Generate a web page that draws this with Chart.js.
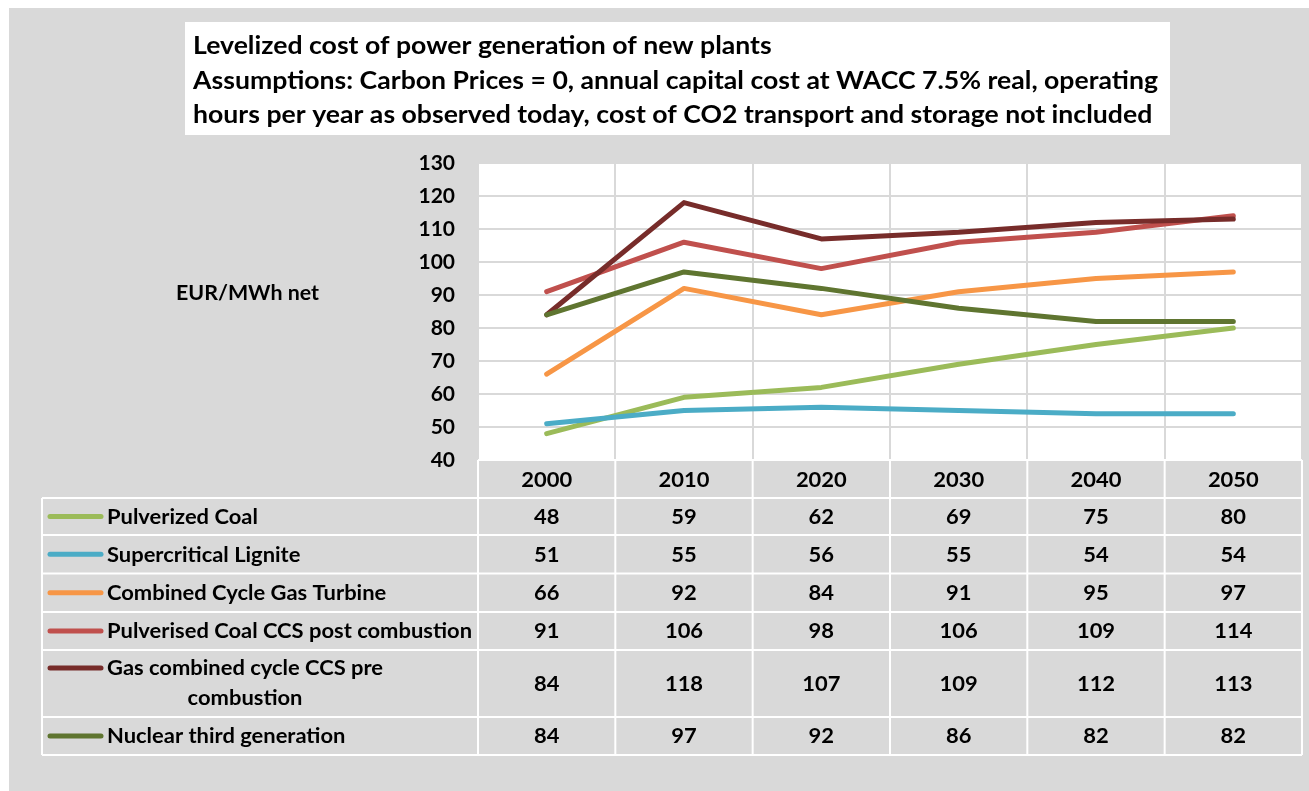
<!DOCTYPE html>
<html>
<head>
<meta charset="utf-8">
<script src="https://cdn.jsdelivr.net/npm/chart.js@4.4.1/dist/chart.umd.min.js"></script>
<style>
  html, body { margin: 0; padding: 0; background: #fff; }
  #wrap { position: relative; width: 1309px; height: 791px; }
</style>
</head>
<body>
<div id="wrap"><canvas id="c"></canvas></div>
<script>
// Levelized cost of power generation, EUR/MWh net
const years = ['2000', '2010', '2020', '2030', '2040', '2050'];
const seriesNames = [
  'Pulverized Coal',
  'Supercritical Lignite',
  'Combined Cycle Gas Turbine',
  'Pulverised Coal CCS post combustion',
  'Gas combined cycle CCS pre combustion',
  'Nuclear third generation',
];
const pulverizedCoal = [48, 59, 62, 69, 75, 80];
const supercriticalLignite = [51, 55, 56, 55, 54, 54];
const ccgt = [66, 92, 84, 91, 95, 97];
const pcCcsPost = [91, 106, 98, 106, 109, 114];
const gasCcsPre = [84, 118, 107, 109, 112, 113];
const nuclearThirdGen = [84, 97, 92, 86, 82, 82];
const seriesValues = [pulverizedCoal, supercriticalLignite, ccgt, pcCcsPost, gasCcsPre, nuclearThirdGen];
const seriesColors = ['#9bbb59', '#4bacc6', '#f79646', '#c0504d', '#772c2a', '#5f7530'];
const titleLines = [
  'Levelized cost of power generation of new plants',
  'Assumptions: Carbon Prices = 0, annual capital cost at WACC 7.5% real, operating',
  'hours per year as observed today, cost of CO2 transport and storage not included',
];
const yLabel = 'EUR/MWh net';

const GRAY = '#d9d9d9';
const FONT = 'Lato, "Open Sans", sans-serif';

// legend labels can wrap inside the table's first column
const legendLines = [
  ['Pulverized Coal'],
  ['Supercritical Lignite'],
  ['Combined Cycle Gas Turbine'],
  ['Pulverised Coal CCS post combustion'],
  ['Gas combined cycle CCS pre', 'combustion'],
  ['Nuclear third generation'],
];
// table row edges (header row first)
const rowEdges = [461, 498, 535, 573.5, 612, 650, 717, 755];

// text squeezed horizontally to mimic the narrow Calibri look
function squeezed(ctx, text, x, y, sx, align) {
  const w = ctx.measureText(text).width * sx;
  let left = x;
  if (align === 'center') left = x - w / 2;
  else if (align === 'right') left = x - w;
  ctx.save();
  ctx.translate(left, y);
  ctx.scale(sx, 1);
  ctx.textAlign = 'left';
  ctx.fillText(text, 0, 0);
  ctx.restore();
  return w;
}

const backdrop = {
  id: 'backdrop',
  beforeDraw(chart) {
    const { ctx, chartArea: a } = chart;
    ctx.save();
    ctx.fillStyle = '#fff';
    ctx.fillRect(0, 0, chart.width, chart.height);
    ctx.fillStyle = GRAY;
    ctx.fillRect(9, 8, chart.width - 9, chart.height - 8);
    ctx.fillStyle = '#fff';
    ctx.fillRect(a.left, a.top, a.right - a.left, a.bottom - a.top);

    // title box
    ctx.fillRect(185, 22, 985, 113);
    ctx.fillStyle = '#000';
    ctx.textBaseline = 'middle';
    ctx.font = 'bold 25px ' + FONT;
    const sxT = 965 / ctx.measureText(titleLines[1]).width;
    titleLines.forEach((t, i) => squeezed(ctx, t, 193, 46 + i * 34.5, sxT, 'left'));

    // axis caption
    ctx.font = 'bold 21px ' + FONT;
    const sxY = 143 / ctx.measureText(yLabel).width;
    squeezed(ctx, yLabel, 176, 293, sxY, 'left');
    ctx.restore();
  },
};

const dataTable = {
  id: 'dataTable',
  afterDraw(chart) {
    const { ctx } = chart;
    const x = chart.scales.x;
    const half = (x.getPixelForTick(1) - x.getPixelForTick(0)) / 2;
    const colL = x.getPixelForTick(0) - half;
    const colR = x.getPixelForTick(years.length - 1) + half;
    const legL = 42;

    ctx.save();
    ctx.strokeStyle = '#fff';
    ctx.lineWidth = 2;
    ctx.beginPath();
    // header row lines
    ctx.moveTo(colL, rowEdges[0] - 1);
    ctx.lineTo(colR, rowEdges[0] - 1);
    for (let i = 1; i < rowEdges.length; i++) {
      ctx.moveTo(legL, rowEdges[i]);
      ctx.lineTo(colR, rowEdges[i]);
    }
    ctx.moveTo(legL, rowEdges[1]);
    ctx.lineTo(legL, rowEdges[rowEdges.length - 1]);
    for (let c = 0; c <= years.length; c++) {
      const px = colL + c * half * 2;
      ctx.moveTo(px, rowEdges[0] - 1);
      ctx.lineTo(px, rowEdges[rowEdges.length - 1]);
    }
    ctx.stroke();

    ctx.fillStyle = '#000';
    ctx.textBaseline = 'middle';
    ctx.font = 'bold 20px ' + FONT;
    const sx = 365 / ctx.measureText(legendLines[3][0]).width;

    // header years
    const hy = (rowEdges[0] + rowEdges[1]) / 2 + 1;
    years.forEach((yr, i) => squeezed(ctx, yr, x.getPixelForTick(i), hy, sx, 'center'));

    // rows
    seriesValues.forEach((vals, r) => {
      const top = rowEdges[r + 1], bot = rowEdges[r + 2];
      const mid = (top + bot) / 2 + 1;
      const lines = legendLines[r];
      const firstY = lines.length > 1 ? top + 18 : mid - 1;

      ctx.strokeStyle = seriesColors[r];
      ctx.lineWidth = 5;
      ctx.lineCap = 'round';
      ctx.beginPath();
      ctx.moveTo(50, firstY);
      ctx.lineTo(101, firstY);
      ctx.stroke();

      const w1 = squeezed(ctx, lines[0], 107, firstY + 1, sx, 'left');
      for (let k = 1; k < lines.length; k++) {
        squeezed(ctx, lines[k], 107 + w1 / 2, firstY + 1 + k * 30, sx, 'center');
      }
      vals.forEach((v, i) => squeezed(ctx, String(v), x.getPixelForTick(i), mid, sx, 'center'));
    });
    ctx.restore();
  },
};

const datasets = seriesValues.map((vals, i) => ({
  label: seriesNames[i],
  data: vals,
  borderColor: seriesColors[i],
  backgroundColor: seriesColors[i],
  borderWidth: 5,
  borderCapStyle: 'round',
  borderJoinStyle: 'round',
  pointRadius: 0,
  tension: 0,
  fill: false,
  order: -i, // later series on top, as in the original
}));

new Chart(document.getElementById('c'), {
  type: 'line',
  data: { labels: years, datasets },
  options: {
    responsive: true,
    maintainAspectRatio: false,
    devicePixelRatio: 1,
    animation: false,
    layout: { padding: { top: 163, bottom: 331, left: 0, right: 7 } },
    plugins: { legend: { display: false }, tooltip: { enabled: false }, title: { display: false } },
    scales: {
      x: {
        offset: true,
        grid: { offset: true, color: GRAY, lineWidth: 2, drawTicks: false },
        border: { display: false },
        ticks: { display: false },
      },
      y: {
        min: 40,
        max: 130,
        afterFit: (s) => { s.width = 478; },
        grid: { color: GRAY, lineWidth: 2, drawTicks: false },
        border: { display: false },
        ticks: {
          stepSize: 10,
          padding: 23,
          color: '#000',
          font: { family: FONT, size: 21, weight: 'bold' },
        },
      },
    },
  },
  plugins: [backdrop, dataTable],
});
</script>
</body>
</html>
